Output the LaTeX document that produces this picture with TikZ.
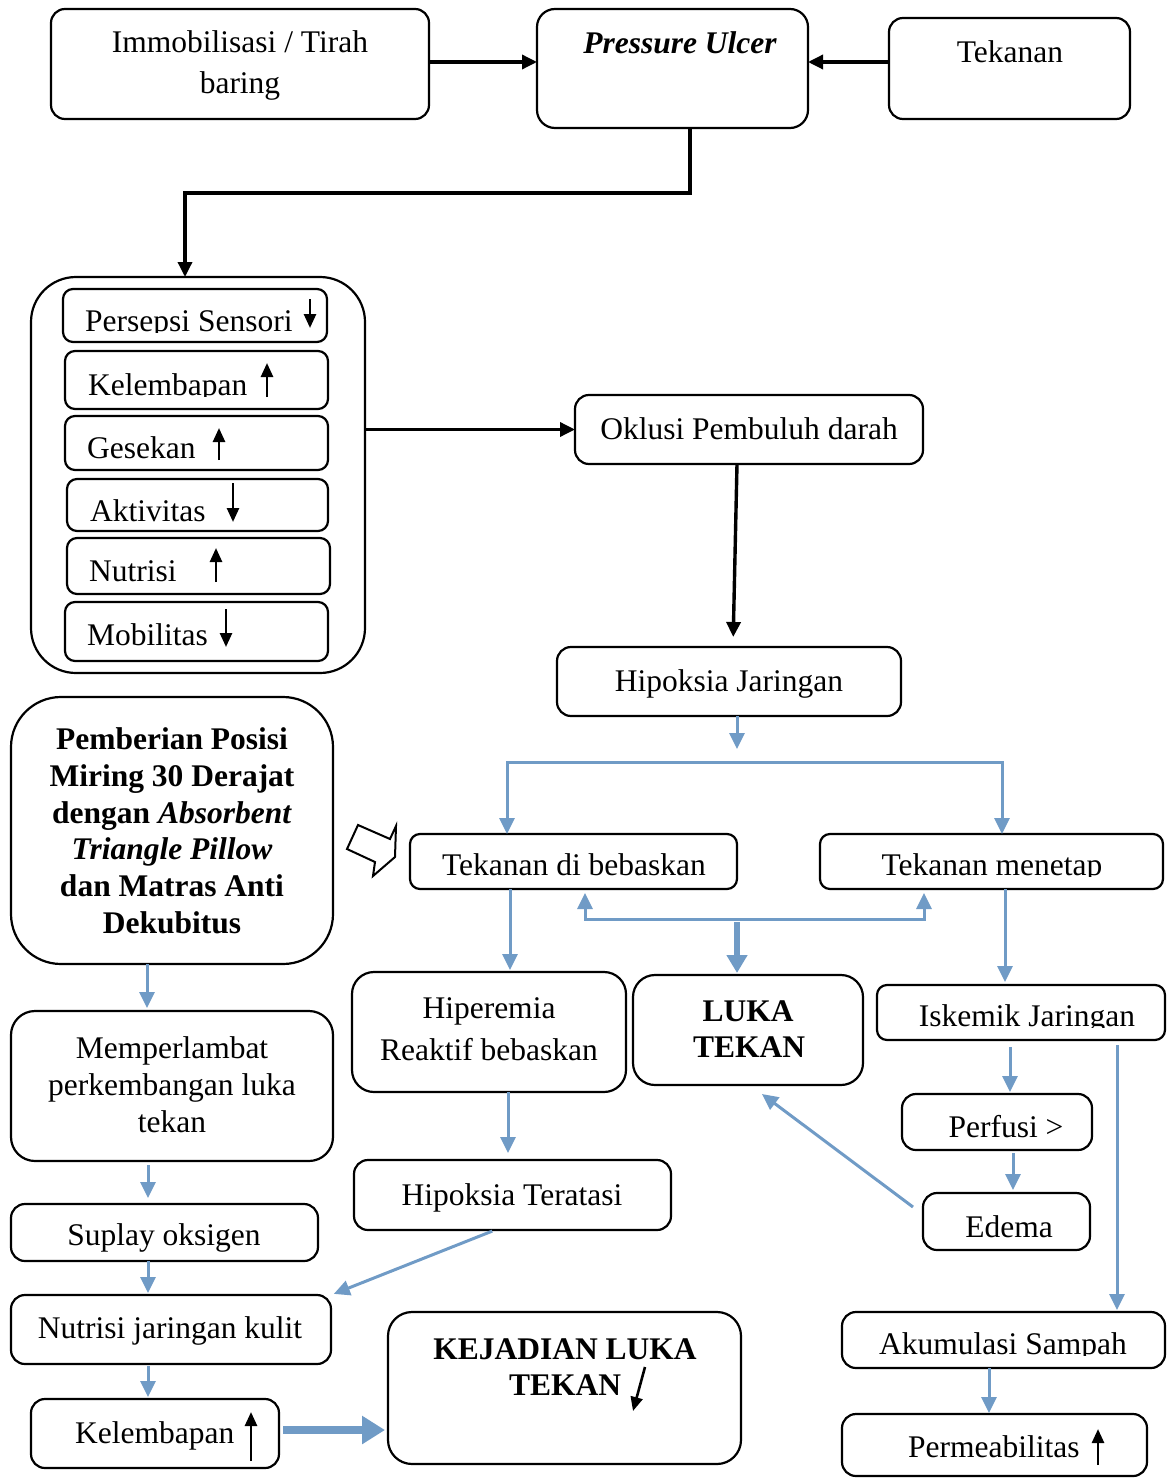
\documentclass[tikz,border=0pt]{standalone}
\usepackage{fontspec}
\setmainfont{Liberation Serif}
\usetikzlibrary{arrows.meta,calc}
\definecolor{ablue}{RGB}{112,155,198}
\begin{document}
\begin{tikzpicture}[x=1pt,y=-1pt,
 box/.style={draw, line width=2.2pt, rounded corners=14pt, anchor=north west, inner sep=0pt, outer sep=0pt},
 txt/.style={font=\fontsize{31.5}{37}\selectfont, anchor=base, inner sep=0pt},
 txtb/.style={font=\fontsize{31.5}{37}\selectfont\bfseries, anchor=base, inner sep=0pt},
 blk/.style={line width=3.4pt, -{Triangle[length=15pt,width=14pt]}},
 gly/.style={line width=2.6pt, -{Triangle[length=14pt,width=12pt]}},
 blu/.style={draw=ablue, line width=3pt, -{Triangle[length=16pt,width=15pt]}},
 blu2/.style={draw=ablue, line width=3pt, {Triangle[length=16pt,width=15pt]}-{Triangle[length=16pt,width=15pt]}},
 bluthick/.style={draw=ablue, line width=5.5pt, -{Triangle[length=18pt,width=20pt]}},
 bluxl/.style={draw=ablue, line width=7.5pt, -{Triangle[length=23pt,width=27pt]}}
]
\useasboundingbox (0,0) rectangle (1168,1479);

% ---------- boxes ----------
\node[box, minimum width=378pt, minimum height=110pt] (im) at (51,9) {};
\node[box, rounded corners=18pt, minimum width=271pt, minimum height=119pt] (pu) at (537,9) {};
\node[box, minimum width=241pt, minimum height=101pt] (tk) at (889,18) {};
\node[box, rounded corners=45pt, minimum width=334pt, minimum height=396pt] (big) at (31,277) {};
\node[box, rounded corners=10pt, minimum width=264pt, minimum height=53pt] (ps) at (63,289) {};
\node[box, rounded corners=10pt, minimum width=263pt, minimum height=58pt] (ke) at (65,351) {};
\node[box, rounded corners=10pt, minimum width=263pt, minimum height=54pt] (ge) at (65,416) {};
\node[box, rounded corners=10pt, minimum width=261pt, minimum height=52pt] (ak) at (67,479) {};
\node[box, rounded corners=10pt, minimum width=263pt, minimum height=56pt] (nu) at (67,538) {};
\node[box, rounded corners=10pt, minimum width=263pt, minimum height=59pt] (mo) at (65,602) {};
\node[box, minimum width=348pt, minimum height=69pt] (ok) at (575,395) {};
\node[box, minimum width=344pt, minimum height=69pt] (hj) at (557,647) {};
\node[box, rounded corners=10pt, minimum width=327pt, minimum height=55pt] (tdb) at (410,834) {};
\node[box, rounded corners=10pt, minimum width=343pt, minimum height=55pt] (tm) at (820,834) {};
\node[box, rounded corners=22pt, minimum width=274pt, minimum height=120pt] (hip) at (352,972) {};
\node[box, rounded corners=22pt, minimum width=230pt, minimum height=110pt] (luka) at (633,975) {};
\node[box, rounded corners=10pt, minimum width=288pt, minimum height=55pt] (isk) at (877,985) {};
\node[box, minimum width=317pt, minimum height=70pt] (hipt) at (354,1160) {};
\node[box, minimum width=190pt, minimum height=56pt] (per) at (902,1094) {};
\node[box, minimum width=167pt, minimum height=57pt] (ed) at (923,1193) {};
\node[box, minimum width=323pt, minimum height=56pt] (akm) at (842,1312) {};
\node[box, minimum width=305pt, minimum height=62pt] (perm) at (842,1414) {};
\node[box, rounded corners=50pt, minimum width=322pt, minimum height=267pt] (pem) at (11,697) {};
\node[box, rounded corners=24pt, minimum width=322pt, minimum height=150pt] (mem) at (11,1011) {};
\node[box, minimum width=307pt, minimum height=57pt] (sup) at (11,1204) {};
\node[box, minimum width=320pt, minimum height=69pt] (njk) at (11,1295) {};
\node[box, minimum width=248pt, minimum height=69pt] (kel) at (31,1399) {};
\node[box, rounded corners=24pt, minimum width=353pt, minimum height=152pt] (kej) at (388,1312) {};

% ---------- texts ----------
\node[txt] (t1a) at (240,53) {Immobilisasi / Tirah};
\node[txt] (t1b) at (240,94) {baring};
\node[txtb, font=\fontsize{31.5}{37}\selectfont\bfseries\itshape] (t2) at (680,54) {Pressure Ulcer};
\node[txt] (t3) at (1010,63) {Tekanan};
\begin{scope}\clip (63,289) rectangle (327,332);
\node[txt, anchor=base west] (t4) at (85,331) {Persepsi Sensori};
\end{scope}
\begin{scope}\clip (65,351) rectangle (328,396);
\node[txt, anchor=base west] (t5) at (88,395) {Kelembapan};
\end{scope}
\node[txt, anchor=base west] (t6) at (87,458) {Gesekan};
\begin{scope}\clip (67,479) rectangle (328,521);
\node[txt, anchor=base west] (t7) at (90,521) {Aktivitas};
\end{scope}
\node[txt, anchor=base west] (t8) at (89,581) {Nutrisi};
\node[txt, anchor=base west] (t9) at (87,645) {Mobilitas};
\node[txt] (t10) at (749,439) {Oklusi Pembuluh darah};
\node[txt] (t11) at (729,691) {Hipoksia Jaringan};
\node[txt] (t12) at (574,875) {Tekanan di bebaskan};
\begin{scope}\clip (820,834) rectangle (1163,876);
\node[txt] (t13) at (992,875) {Tekanan menetap};
\end{scope}
\node[txt] (t14a) at (489,1018) {Hiperemia};
\node[txt] (t14b) at (489,1060) {Reaktif bebaskan};
\node[txtb] (t15a) at (748,1021) {LUKA};
\node[txtb] (t15b) at (749,1057) {TEKAN};
\begin{scope}\clip (877,985) rectangle (1165,1027);
\node[txt] (t16) at (1027,1026) {Iskemik Jaringan};
\end{scope}
\node[txt] (t17) at (512,1205) {Hipoksia Teratasi};
\node[txt] (t18) at (1006,1137) {Perfusi >};
\node[txt] (t19) at (1009,1237) {Edema};
\begin{scope}\clip (842,1312) rectangle (1165,1355);
\node[txt] (t20) at (1003,1354) {Akumulasi Sampah};
\end{scope}
\node[txt, anchor=base west] (t21) at (908,1457) {Permeabilitas};
\node[txtb] (t22a) at (172,749) {Pemberian Posisi};
\node[txtb] (t22b) at (172,786) {Miring 30 Derajat};
\node[txtb] (t22c) at (172,823) {dengan \textit{Absorbent}};
\node[txtb, font=\fontsize{31.5}{37}\selectfont\bfseries\itshape] (t22d) at (172,859) {Triangle Pillow};
\node[txtb] (t22e) at (172,896) {dan Matras Anti};
\node[txtb] (t22f) at (172,933) {Dekubitus};
\node[txt] (t23a) at (172,1058) {Memperlambat};
\node[txt] (t23b) at (172,1095) {perkembangan luka};
\node[txt] (t23c) at (172,1132) {tekan};
\node[txt] (t24) at (164,1245) {Suplay oksigen};
\node[txt] (t25) at (170,1338) {Nutrisi jaringan kulit};
\node[txt, anchor=base west] (t26) at (75,1443) {Kelembapan};
\node[txtb] (t27a) at (565,1359) {KEJADIAN LUKA};
\node[txtb, anchor=base west] (t27b) at (509,1395) {TEKAN};

% ---------- glyph arrows ----------
\draw[gly] (310,299) -- (310,328);
\draw[gly] (267,397) -- (267,363);
\draw[gly] (219,460) -- (219,428);
\draw[gly] (233,483) -- (233,522);
\draw[gly] (216,582) -- (216,548);
\draw[gly] (226,609) -- (226,647);
\draw[gly] (251,1461) -- (251,1412);
\draw[gly] (1098,1465) -- (1098,1429);
\draw[gly] (645,1367) -- (633,1411);

% ---------- black connectors ----------
\coordinate (a1) at ([yshift=2pt]im.east);
\draw[blk] (a1) -- (a1 -| pu.west);
\coordinate (a2) at ([yshift=6.5pt]tk.west);
\draw[blk] (a2) -- (a2 -| pu.east);
\draw[blk] (pu.south -| 690,0) -- ++(0,65) -| (big.north -| 185,0);
\draw[blk] (big.east |- ok.west) -- (ok.west);
\draw[blk, shorten >=10pt] (ok.south -| 737,0) -- (hj.north -| 733,0);

% ---------- blue connectors ----------
\coordinate (hjend) at (737,749);
\draw[blu] (hj.south -| 737,0) -- (hjend);
\draw[blu2] (tdb.north -| 507,0) |- (1002,762) -- (tm.north -| 1002,0);
\draw[blu2, shorten <=4pt, shorten >=4pt] (tdb.south -| 585,0) |- (924,919) -- (tm.south -| 924,0);
\coordinate (lk) at (737,922);
\draw[bluthick, shorten >=2pt] (lk) -- (luka.north -| 737,0);
\draw[blu, shorten >=2pt] (tdb.south -| 510,0) -- (hip.north -| 510,0);
\draw[blu, shorten >=3pt] (tm.south -| 1005,0) -- (isk.north -| 1005,0);
\draw[blu, shorten >=7pt] (hip.south -| 508,0) -- (hipt.north -| 508,0);
\draw[blu, shorten <=3pt, shorten >=3pt] (hipt.south -| 495,0) -- (njk.north east);
\draw[blu, shorten <=7pt, shorten >=2pt] (isk.south -| 1010,0) -- (per.north -| 1010,0);
\draw[blu, shorten <=3pt, shorten >=3pt] (per.south -| 1013,0) -- (ed.north -| 1013,0);
\coordinate (edout) at (913,1207);
\coordinate (lukain) at (762,1094);
\draw[blu] (edout) -- (lukain);
\draw[blu, shorten <=5pt, shorten >=2pt] (isk.south -| 1117,0) -- (akm.north -| 1117,0);
\draw[blu, shorten >=1pt] (akm.south -| 989,0) -- (perm.north -| 989,0);
\draw[blu, shorten >=3pt] (pem.south -| 147,0) -- (mem.north -| 147,0);
\draw[blu, shorten <=4pt, shorten >=6pt] (mem.south -| 148,0) -- (sup.north -| 148,0);
\draw[blu, shorten >=2pt] (sup.south -| 148,0) -- (njk.north -| 148,0);
\draw[blu, shorten <=2pt, shorten >=2pt] (njk.south -| 148,0) -- (kel.north -| 148,0);
\coordinate (k1) at (283,1430);
\draw[bluxl, shorten >=3pt] (k1) -- (k1 -| kej.west);

% ---------- hollow block arrow ----------
\draw[line width=2pt, line join=miter] (358,825) -- (390,839) -- (396,826) -- (395,857) -- (373,876) -- (375,862) -- (347,849) -- cycle;
\end{tikzpicture}
\end{document}
